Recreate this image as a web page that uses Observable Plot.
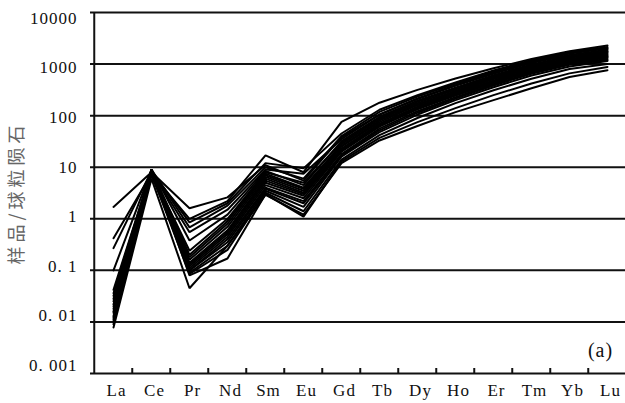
<!DOCTYPE html>
<html>
<head>
<meta charset="utf-8">
<script src="https://cdn.jsdelivr.net/npm/d3@7"></script>
<script src="https://cdn.jsdelivr.net/npm/@observablehq/plot@0.6"></script>
<style>
  html, body { margin: 0; padding: 0; background: #fff; overflow: hidden; }
  #chart svg { display: block; }
  #chart text { letter-spacing: 1px; }
  #chart text.y-title { letter-spacing: 4px; }
</style>
</head>
<body>
<div id="chart"></div>
<script>
// Rare earth elements, in the order of the x axis
const ree = ["La", "Ce", "Pr", "Nd", "Sm", "Eu", "Gd", "Tb", "Dy", "Ho", "Er", "Tm", "Yb", "Lu"];

// Chondrite-normalised REE values for each zircon analysis
const zr01 = [1.7, 8.0, 1.6, 2.6, 11, 5.5, 38, 105, 215, 390, 680, 1100, 1600, 2000];
const zr02 = [0.42, 7.5, 1.0, 2.2, 17, 8.0, 76, 178, 316, 525, 830, 1260, 1780, 2300];
const zr03 = [0.27, 8.5, 0.85, 2.0, 12, 9.5, 45, 130, 250, 440, 750, 1200, 1700, 2150];
const zr04 = [0.10, 9.0, 0.68, 1.8, 10, 6.0, 40, 118, 235, 415, 710, 1130, 1620, 2050];
const zr05 = [0.042, 8.5, 0.55, 1.5, 9, 7.5, 35, 105, 210, 380, 650, 1050, 1500, 1900];
const zr06 = [0.036, 9.0, 0.38, 1.2, 8.5, 4.5, 32, 95, 195, 350, 610, 980, 1420, 1800];
const zr07 = [0.032, 8.0, 0.24, 1.0, 8, 5.0, 30, 90, 185, 335, 580, 950, 1380, 1750];
const zr08 = [0.028, 9.0, 0.20, 0.9, 7.5, 4.0, 28, 85, 175, 320, 560, 900, 1320, 1680];
const zr09 = [0.025, 8.5, 0.18, 0.8, 7, 3.8, 26, 80, 165, 300, 530, 860, 1260, 1600];
const zr10 = [0.022, 7.5, 0.16, 0.7, 6.5, 3.5, 25, 75, 160, 290, 510, 830, 1200, 1520];
const zr11 = [0.020, 9.0, 0.14, 0.6, 6, 3.2, 23, 70, 150, 275, 480, 790, 1160, 1450];
const zr12 = [0.018, 8.0, 0.13, 0.55, 5.5, 3.0, 22, 67, 145, 265, 465, 770, 1130, 1400];
const zr13 = [0.016, 8.5, 0.12, 0.5, 5, 2.8, 21, 64, 140, 255, 450, 745, 1100, 1370];
const zr14 = [0.015, 7.0, 0.11, 0.45, 4.5, 2.5, 20, 61, 133, 245, 430, 720, 1060, 1330];
const zr15 = [0.013, 9.0, 0.10, 0.4, 4, 2.2, 18, 56, 122, 228, 405, 680, 1010, 1260];
const zr16 = [0.012, 8.0, 0.10, 0.35, 3.8, 2.0, 17, 52, 114, 215, 385, 650, 970, 1200];
const zr17 = [0.011, 8.5, 0.09, 0.3, 3.5, 1.7, 16, 48, 105, 200, 355, 600, 900, 1150];
const zr18 = [0.010, 7.5, 0.085, 0.25, 3.2, 1.4, 14, 42, 90, 175, 310, 520, 800, 1000];
const zr19 = [0.009, 9.0, 0.08, 0.17, 3, 1.1, 13, 37, 75, 140, 250, 420, 660, 880];
const zr20 = [0.0078, 6.0, 0.045, 0.3, 2.9, 1.2, 12, 33, 63, 117, 200, 340, 560, 760];

const samples = [zr01, zr02, zr03, zr04, zr05, zr06, zr07, zr08, zr09, zr10,
                 zr11, zr12, zr13, zr14, zr15, zr16, zr17, zr18, zr19, zr20];

// Y axis ticks and their printed labels
const yTicks = [0.001, 0.01, 0.1, 1, 10, 100, 1000, 10000];
const yLabels = ["0. 001", "0. 01", "0. 1", "1", "10", "100", "1000", "10000"];

const yTitle = "样品/球粒陨石";
const panelTag = "(a)";

// Long format for the line mark
const rows = samples.flatMap((vals, i) =>
  vals.map((v, j) => ({sample: i, ree: ree[j], value: v})));

const width = 625, height = 403;
const marginLeft = 90, marginRight = -4, marginTop = 12, marginBottom = 30;
const plotH = height - marginTop - marginBottom;
const step = (width - marginLeft - marginRight) / ree.length;
const decadePx = plotH / (yTicks.length - 1);
const labelStep = 49.6; // tick labels are set slightly tighter than the grid

const serif = "'Liberation Serif', 'Times New Roman', serif";

const yLabelMarks = yTicks.map((t, i) =>
  Plot.text([t], {
    y: d => d,
    text: () => yLabels[i],
    frameAnchor: "left",
    textAnchor: "end",
    dx: -13,
    dy: -(Math.log10(t) - 1) * (labelStep - decadePx),
    fontSize: 17,
    fontFamily: serif,
    fill: "#111"
  }));

const chart = Plot.plot({
  width, height, marginLeft, marginRight, marginTop, marginBottom,
  style: {background: "#fff", fontFamily: serif},
  x: {type: "point", domain: ree, padding: 0.5, axis: null},
  y: {type: "log", domain: [0.001, 10000], axis: null},
  marks: [
    // horizontal grid at each decade (also the top and bottom frame)
    Plot.ruleY(yTicks, {stroke: "#111", strokeWidth: 2}),
    // left frame line at the start of the first element band
    Plot.ruleX([ree[0]], {dx: -step / 2, stroke: "#111", strokeWidth: 2}),
    // short inward ticks between neighbouring elements
    Plot.ruleX(ree.slice(1), {dx: -step / 2, insetTop: plotH - 5, stroke: "#111", strokeWidth: 2}),
    // REE patterns
    Plot.line(rows, {x: "ree", y: "value", z: "sample", stroke: "#000", strokeWidth: 2, strokeLinejoin: "miter"}),
    // element names under the axis
    Plot.text(ree, {x: d => d, frameAnchor: "bottom", dy: 17, dx: 3, lineAnchor: "middle",
                    fontSize: 17, fontFamily: serif, fill: "#111"}),
    ...yLabelMarks,
    // y axis title
    Plot.text([yTitle], {frameAnchor: "left", dx: -73, rotate: -90, textAnchor: "middle",
                         fontSize: 18, fontFamily: "'Noto Sans CJK SC', sans-serif",
                         fill: "#666"}),
    // panel tag
    Plot.text([panelTag], {frameAnchor: "bottom-right", dx: -29, dy: -23, lineAnchor: "middle",
                           textAnchor: "middle", fontSize: 20, fontFamily: serif, fill: "#111"})
  ]
});

// widen the spacing of the rotated axis title
d3.select(chart).selectAll("text")
  .filter(function () { return this.textContent === yTitle; })
  .classed("y-title", true);

document.getElementById("chart").appendChild(chart);
</script>
</body>
</html>
